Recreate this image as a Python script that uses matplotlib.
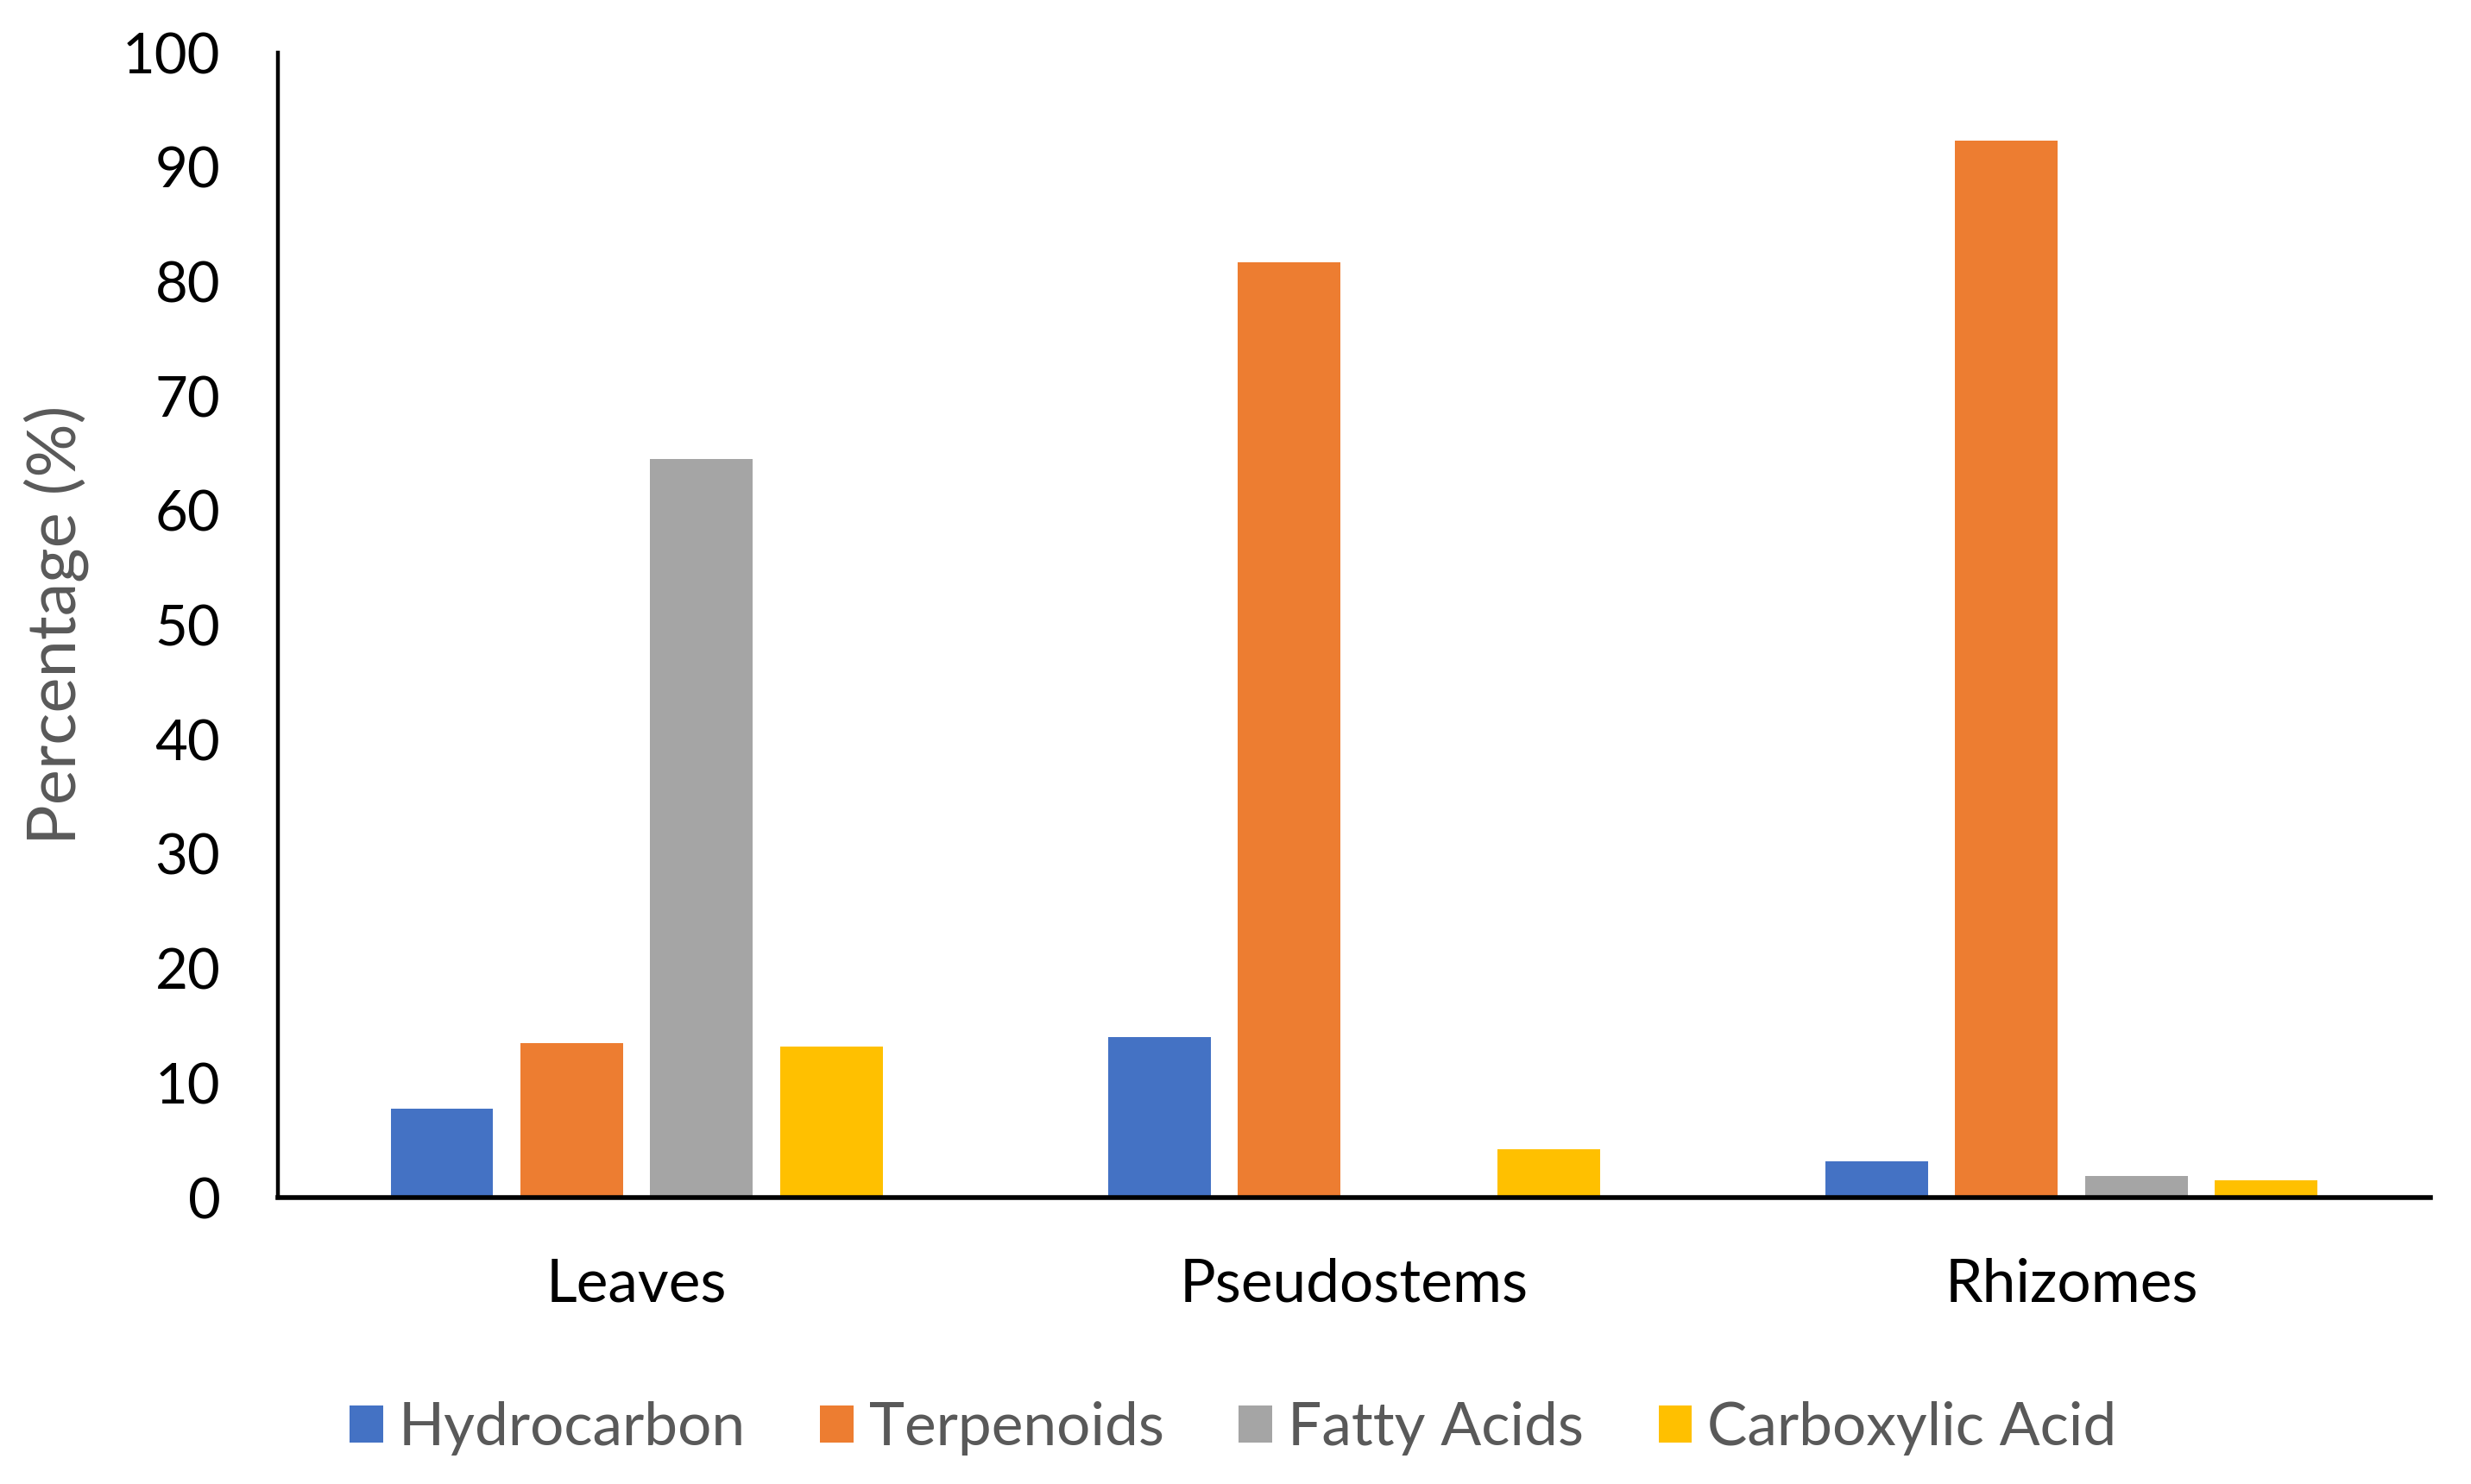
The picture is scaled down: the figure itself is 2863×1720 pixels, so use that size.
import numpy as np
import matplotlib.pyplot as plt

plt.rcParams['font.family'] = ['Lato', 'DejaVu Sans']

# data
categories = ['Leaves', 'Pseudostems', 'Rhizomes']
series = ['Hydrocarbon', 'Terpenoids', 'Fatty Acids', 'Carboxylic Acid']
hydrocarbon = [7.8, 14.0, 3.2]
terpenoids = [13.5, 81.7, 92.3]
fatty_acids = [64.5, 0.0, 1.9]
carboxylic = [13.2, 4.2, 1.5]
colors = ['#4472C4', '#ED7D31', '#A5A5A5', '#FFC000']

values = [hydrocarbon, terpenoids, fatty_acids, carboxylic]

fig = plt.figure(figsize=(14.315, 8.6), dpi=200)
ax = fig.add_axes([0.1125, 0.193, 0.871, 0.7715])

x = np.arange(len(categories))
step = 0.181
width = 0.143
for i, (name, vals, col) in enumerate(zip(series, values, colors)):
    ax.bar(x + (i - 1.5) * step, vals, width, color=col, label=name, zorder=2)

ax.set_xlim(-0.5, 2.5)
ax.set_ylim(0, 100)
ax.set_yticks(np.arange(0, 101, 10))
ax.set_xticks(x)
ax.set_xticklabels(categories)

for side in ['top', 'right']:
    ax.spines[side].set_visible(False)
ax.spines['left'].set_linewidth(1.6)
ax.spines['bottom'].set_linewidth(2.0)
ax.tick_params(axis='both', length=0, colors='black')
ax.tick_params(axis='y', pad=24, labelsize=23.5)
ax.tick_params(axis='x', pad=25, labelsize=25)

ax.set_ylabel('Percentage (%)', fontsize=28, color='#595959')
ax.yaxis.set_label_coords(-0.088, 0.5)

leg = fig.legend(loc='center', bbox_to_anchor=(0.499, 0.0375), ncol=4,
                 frameon=False, fontsize=25, handlelength=0.56, handleheight=0.56,
                 handletextpad=0.25, columnspacing=1.25)
for t in leg.get_texts():
    t.set_color('#595959')

fig.savefig('out.png', dpi=200)
